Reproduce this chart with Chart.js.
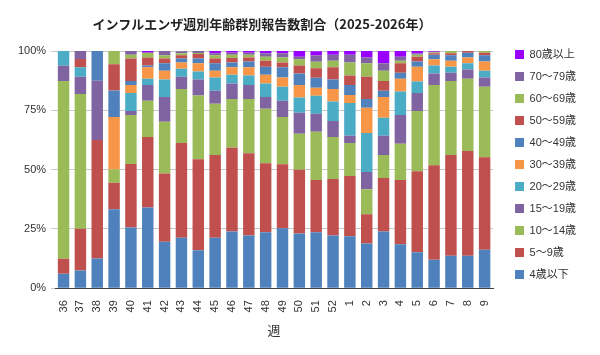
<!DOCTYPE html>
<html>
<head>
<meta charset="utf-8">
<script src="https://cdn.jsdelivr.net/npm/chart.js@4/dist/chart.umd.min.js"></script>
<style>
  html, body { margin: 0; padding: 0; background: #fff; }
  #wrap { position: relative; width: 600px; height: 355px; }
  #title { position: absolute; left: 0; top: 14px; width: 524px; text-align: center;
           font-family: "Noto Sans CJK JP", sans-serif; font-weight: bold; font-size: 13px; color: #222; }
  canvas { position: absolute; left: 0; top: 0; }
</style>
</head>
<body>
<div id="wrap">
  <canvas id="c" width="600" height="355"></canvas>
  <div id="title">インフルエンザ週別年齢群別報告数割合（2025-2026年）</div>
</div>
<script>
const weeks = ['36','37','38','39','40','41','42','43','44','45','46','47','48','49','50','51','52','1','2','3','4','5','6','7','8','9'];
const seriesNames = ['4歳以下','5～9歳','10～14歳','15～19歳','20～29歳','30～39歳','40～49歳','50～59歳','60～69歳','70～79歳','80歳以上'];
const seriesColors = ['#4F81BD','#C0504D','#9BBB59','#8064A2','#4BACC6','#F79646','#4F81BD','#C0504D','#9BBB59','#8064A2','#9900FF'];

const age0_4   = [6.1, 7.5, 12.5, 33.3, 25.6, 34.0, 19.6, 21.3, 16.0, 21.3, 23.9, 22.2, 23.6, 25.3, 23.0, 23.6, 22.2, 21.9, 18.8, 23.9, 18.5, 15.1, 12.0, 13.7, 13.7, 16.2];
const age5_9   = [6.3, 17.6, 50.0, 11.1, 26.8, 29.7, 28.8, 39.9, 38.4, 34.8, 35.3, 34.7, 29.1, 27.0, 26.9, 22.0, 23.8, 25.4, 12.4, 22.6, 27.1, 34.2, 39.8, 42.4, 44.1, 39.0];
const age10_14 = [75.0, 56.8, 0, 5.6, 20.6, 15.3, 21.8, 22.8, 26.8, 21.7, 20.6, 22.9, 22.9, 19.9, 15.2, 20.3, 17.7, 13.9, 10.5, 9.6, 15.3, 25.4, 33.9, 31.3, 30.5, 29.7];
const age15_19 = [6.4, 7.2, 25.0, 0, 1.7, 6.7, 10.4, 5.1, 6.8, 5.4, 6.5, 5.9, 5.0, 6.8, 8.9, 7.6, 6.8, 3.1, 7.3, 8.2, 12.1, 7.6, 4.8, 3.4, 3.9, 3.9];
const age20_29 = [6.2, 4.0, 0, 0, 7.6, 2.6, 7.4, 3.4, 3.4, 5.6, 3.7, 4.0, 5.7, 5.9, 6.4, 7.6, 8.2, 13.8, 16.4, 7.6, 9.9, 4.8, 3.4, 2.6, 2.6, 2.9];
const age30_39 = [0, 0, 0, 22.2, 3.4, 4.8, 3.7, 2.6, 3.4, 2.9, 3.1, 3.4, 3.7, 3.9, 5.3, 3.4, 5.3, 3.4, 10.7, 8.7, 5.4, 6.3, 2.6, 2.5, 2.5, 3.9];
const age40_49 = [0, 0, 12.5, 11.1, 1.7, 0.8, 3.1, 1.7, 2.0, 3.1, 2.0, 2.5, 3.4, 4.3, 4.8, 4.2, 4.0, 4.2, 3.7, 2.6, 2.5, 2.2, 1.9, 2.3, 2.0, 2.6];
const age50_59 = [0, 3.5, 0, 11.1, 9.4, 3.4, 2.0, 1.4, 1.9, 2.0, 1.9, 1.7, 2.5, 2.0, 3.4, 4.0, 5.1, 4.0, 9.3, 4.2, 4.0, 2.0, 0.6, 0.8, 0.7, 1.1];
const age60_69 = [0, 0, 0, 5.6, 1.6, 2.0, 1.4, 0.8, 0.5, 1.4, 1.4, 1.1, 1.7, 2.2, 2.6, 2.8, 2.8, 5.4, 5.7, 4.3, 1.1, 0.8, 0.4, 1.0, 0, 0.7];
const age70_79 = [0, 3.4, 0, 0, 1.6, 0, 1.8, 0.9, 0.8, 0.8, 0.9, 0.9, 1.4, 1.7, 1.1, 2.6, 2.5, 3.3, 2.5, 3.1, 1.7, 0.5, 0.3, 0, 0, 0];
const age80up  = [0, 0, 0, 0, 0, 0.7, 0, 0, 0, 1.0, 0.7, 0.7, 1.0, 1.0, 2.4, 1.8, 1.6, 1.6, 2.7, 5.2, 2.4, 1.1, 0.3, 0, 0, 0];

const yTicks = [0, 25, 50, 75, 100];

const seriesValues = [age0_4, age5_9, age10_14, age15_19, age20_29, age30_39, age40_49, age50_59, age60_69, age70_79, age80up];

const FONT = '"Liberation Sans", "Noto Sans CJK JP", sans-serif';
Chart.defaults.font.family = FONT;
Chart.defaults.color = '#333';

const legendShift = {
  id: 'legendShift',
  afterLayout(chart) {
    const lg = chart.legend;
    if (lg) { lg.top -= 13; lg.bottom -= 13; lg.left += 11; lg.right += 11; }
  }
};

new Chart(document.getElementById('c'), {
  type: 'bar',
  data: {
    labels: weeks,
    datasets: seriesNames.map((name, i) => ({
      label: name,
      data: seriesValues[i],
      backgroundColor: seriesColors[i],
      borderWidth: 0,
      barPercentage: 0.68,
      categoryPercentage: 1.0
    }))
  },
  options: {
    responsive: false,
    animation: false,
    layout: { padding: { top: 51, right: 25, bottom: 16, left: 13 } },
    plugins: {
      legend: {
        position: 'right',
        align: 'start',
        reverse: true,
        fullSize: true,
        labels: { boxWidth: 9, boxHeight: 9, padding: 11, font: { size: 11 }, color: '#333' }
      },
      title: { display: false },
      tooltip: { enabled: false }
    },
    scales: {
      x: {
        stacked: true,
        grid: { display: false },
        border: { display: true, color: '#404040', width: 1 },
        ticks: { minRotation: 90, maxRotation: 90, autoSkip: false, font: { size: 11 }, color: '#333', padding: 4 },
        title: { display: true, text: '週', font: { size: 13 }, color: '#333', padding: { top: 7, bottom: 0 } }
      },
      y: {
        stacked: true,
        min: 0,
        max: 100,
        afterBuildTicks(scale) { scale.ticks = yTicks.map(v => ({ value: v })); },
        ticks: { callback: v => v + '%', font: { size: 11 }, color: '#333', padding: 5 },
        grid: { color: '#c8c8c8', tickLength: 4 },
        border: { display: false }
      }
    }
  },
  plugins: [legendShift]
});
</script>
</body>
</html>
